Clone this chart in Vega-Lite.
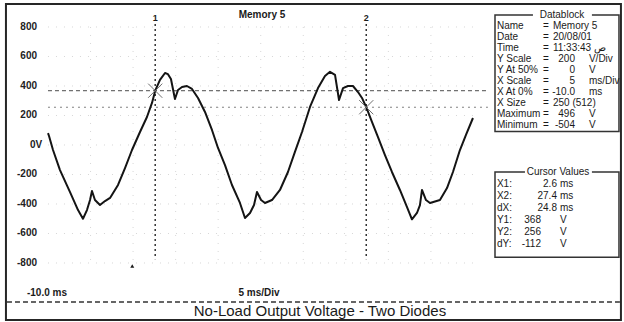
{
  "$schema": "https://vega.github.io/schema/vega-lite/v6.json",
  "width": 624,
  "height": 322,
  "padding": 0,
  "autosize": {"type": "fit", "contains": "padding"},
  "background": "#ffffff",
  "config": {
    "view": {"stroke": null},
    "font": "Liberation Sans",
    "text": {"font": "Liberation Sans", "color": "#1a1a1a", "fontSize": 10}
  },
  "data": {"values": [{}]},
  "datasets": {
    "trace": [
      {"t": -10.0, "v": 81}, {"t": -9.88, "v": 61}, {"t": -9.41, "v": -34}, {"t": -8.59, "v": -170}, {"t": -7.41, "v": -319},
      {"t": -6.47, "v": -441}, {"t": -5.89, "v": -500}, {"t": -5.42, "v": -441}, {"t": -5.06, "v": -373},
      {"t": -4.83, "v": -312}, {"t": -4.48, "v": -373}, {"t": -3.89, "v": -407}, {"t": -3.30, "v": -380},
      {"t": -2.71, "v": -359}, {"t": -1.77, "v": -271}, {"t": -0.95, "v": -156}, {"t": -0.13, "v": -34},
      {"t": 0.81, "v": 88}, {"t": 1.63, "v": 190}, {"t": 2.22, "v": 285}, {"t": 2.6, "v": 368},
      {"t": 3.16, "v": 441}, {"t": 3.75, "v": 488}, {"t": 4.1, "v": 480}, {"t": 4.45, "v": 447},
      {"t": 4.92, "v": 312}, {"t": 5.28, "v": 373}, {"t": 5.75, "v": 393}, {"t": 6.33, "v": 400},
      {"t": 6.92, "v": 380}, {"t": 7.63, "v": 319}, {"t": 8.45, "v": 224}, {"t": 9.27, "v": 102},
      {"t": 9.98, "v": -20}, {"t": 10.8, "v": -136}, {"t": 11.62, "v": -271}, {"t": 12.56, "v": -393},
      {"t": 13.15, "v": -495}, {"t": 13.74, "v": -461}, {"t": 14.21, "v": -407}, {"t": 14.56, "v": -319},
      {"t": 15.04, "v": -373}, {"t": 15.5, "v": -393}, {"t": 16.32, "v": -373}, {"t": 17.26, "v": -305},
      {"t": 18.2, "v": -183}, {"t": 19.02, "v": -47}, {"t": 19.85, "v": 88}, {"t": 20.79, "v": 258},
      {"t": 21.73, "v": 386}, {"t": 22.55, "v": 468}, {"t": 23.14, "v": 496}, {"t": 23.73, "v": 475},
      {"t": 24.2, "v": 305}, {"t": 24.67, "v": 386}, {"t": 25.25, "v": 400}, {"t": 25.84, "v": 400},
      {"t": 26.43, "v": 359}, {"t": 26.9, "v": 319}, {"t": 27.4, "v": 256}, {"t": 28.07, "v": 156},
      {"t": 28.78, "v": 54}, {"t": 29.6, "v": -68}, {"t": 30.42, "v": -183}, {"t": 31.36, "v": -305},
      {"t": 32.18, "v": -420}, {"t": 32.77, "v": -504}, {"t": 33.36, "v": -461}, {"t": 33.71, "v": -407},
      {"t": 33.95, "v": -305}, {"t": 34.42, "v": -373}, {"t": 34.89, "v": -393}, {"t": 36.06, "v": -373},
      {"t": 36.89, "v": -292}, {"t": 37.59, "v": -183}, {"t": 38.41, "v": -34}, {"t": 39.12, "v": 68},
      {"t": 39.94, "v": 183}
    ],
    "cursors": [
      {"id": "1", "t": 2.6, "v": 368},
      {"id": "2", "t": 27.4, "v": 256}
    ],
    "timeDivs": [
      {"t": -5}, {"t": 0}, {"t": 5}, {"t": 10}, {"t": 15}, {"t": 20}, {"t": 25}, {"t": 30}, {"t": 35}
    ],
    "voltDivs": [
      {"v": -800, "label": "-800"}, {"v": -600, "label": "-600"}, {"v": -400, "label": "-400"},
      {"v": -200, "label": "-200"}, {"v": 0, "label": "0V"}, {"v": 200, "label": "200"},
      {"v": 400, "label": "400"}, {"v": 600, "label": "600"}, {"v": 800, "label": "800"}
    ],
    "datablock": [
      {"line": 1, "label": "Name", "rest": "Memory 5"},
      {"line": 2, "label": "Date", "rest": "20/08/01"},
      {"line": 3, "label": "Time", "rest": "11:33:43 ص"},
      {"line": 4, "label": "Y Scale", "num": "200", "unit": "V/Div"},
      {"line": 5, "label": "Y At 50%", "num": "0", "unit": "V"},
      {"line": 6, "label": "X Scale", "num": "5", "unit": "ms/Div"},
      {"line": 7, "label": "X At 0%", "num": "-10.0", "unit": "ms"},
      {"line": 8, "label": "X Size", "rest": "250 (512)"},
      {"line": 9, "label": "Maximum", "num": "496", "unit": "V"},
      {"line": 10, "label": "Minimum", "num": "-504", "unit": "V"}
    ],
    "cursorValues": [
      {"line": 1, "label": "X1:", "num": "2.6", "unit": "ms"},
      {"line": 2, "label": "X2:", "num": "27.4", "unit": "ms"},
      {"line": 3, "label": "dX:", "num": "24.8", "unit": "ms"},
      {"line": 4, "label": "Y1:", "num": "368", "unit": "V"},
      {"line": 5, "label": "Y2:", "num": "256", "unit": "V"},
      {"line": 6, "label": "dY:", "num": "-112", "unit": "V"}
    ]
  },
  "layer": [
    {
      "layer": [
        {
          "mark": {"type": "rect", "fillOpacity": 0, "stroke": "#262626", "strokeWidth": 2},
          "encoding": {
            "x": {"datum": -14.94, "scale": {"domain": [-15.64, 57.69], "nice": false, "zero": false}, "axis": null},
            "x2": {"datum": 57.33},
            "y": {"datum": 956, "scale": {"domain": [-1200, 983], "nice": false, "zero": false}, "axis": null},
            "y2": {"datum": -1186}
          }
        },
        {
          "data": {"name": "timeDivs"},
          "mark": {"type": "rule", "stroke": "#bdbdbd", "strokeWidth": 1, "strokeDash": [1, 7], "opacity": 0.6},
          "encoding": {
            "x": {"field": "t", "type": "quantitative", "scale": {"domain": [-15.64, 57.69], "nice": false, "zero": false}, "axis": null},
            "y": {"datum": 800, "scale": {"domain": [-1200, 983], "nice": false, "zero": false}, "axis": null},
            "y2": {"datum": -800}
          }
        },
        {
          "data": {"name": "voltDivs"},
          "mark": {"type": "rule", "stroke": "#bdbdbd", "strokeWidth": 1, "strokeDash": [1, 7], "opacity": 0.6},
          "encoding": {
            "y": {"field": "v", "type": "quantitative", "scale": {"domain": [-1200, 983], "nice": false, "zero": false}, "axis": null},
            "x": {"datum": -10, "scale": {"domain": [-15.64, 57.69], "nice": false, "zero": false}, "axis": null},
            "x2": {"datum": 40}
          }
        },
        {
          "data": {"name": "voltDivs"},
          "transform": [{"filter": "datum.v != 0"}],
          "mark": {"type": "text", "fontSize": 10, "fontWeight": "bold", "align": "right", "baseline": "middle", "color": "#222222"},
          "encoding": {
            "y": {"field": "v", "type": "quantitative", "scale": {"domain": [-1200, 983], "nice": false, "zero": false}, "axis": null},
            "x": {"datum": -11.29, "scale": {"domain": [-15.64, 57.69], "nice": false, "zero": false}, "axis": null},
            "text": {"field": "label"}
          }
        },
        {
          "data": {"name": "voltDivs"},
          "transform": [{"filter": "datum.v == 0"}],
          "mark": {"type": "text", "fontSize": 10, "fontWeight": "bold", "align": "left", "baseline": "middle", "color": "#222222"},
          "encoding": {
            "y": {"field": "v", "type": "quantitative", "scale": {"domain": [-1200, 983], "nice": false, "zero": false}, "axis": null},
            "x": {"datum": -12.12, "scale": {"domain": [-15.64, 57.69], "nice": false, "zero": false}, "axis": null},
            "text": {"field": "label"}
          }
        },
        {
          "mark": {"type": "rule", "stroke": "#333333", "strokeWidth": 1.5, "strokeDash": [5, 3]},
          "encoding": {
            "x": {"datum": -14.82, "scale": {"domain": [-15.64, 57.69], "nice": false, "zero": false}, "axis": null},
            "x2": {"datum": 57.21},
            "y": {"datum": -1064.5, "scale": {"domain": [-1200, 983], "nice": false, "zero": false}, "axis": null}
          }
        },
        {
          "data": {"name": "cursors"},
          "mark": {"type": "rule", "stroke": "#333333", "strokeWidth": 1.5, "strokeDash": [2, 3]},
          "encoding": {
            "x": {"field": "t", "type": "quantitative", "scale": {"domain": [-15.64, 57.69], "nice": false, "zero": false}, "axis": null},
            "y": {"datum": 820, "scale": {"domain": [-1200, 983], "nice": false, "zero": false}, "axis": null},
            "y2": {"datum": -775}
          }
        },
        {
          "data": {"name": "cursors"},
          "mark": {"type": "rule", "strokeWidth": 1},
          "encoding": {
            "y": {"field": "v", "type": "quantitative", "scale": {"domain": [-1200, 983], "nice": false, "zero": false}, "axis": null},
            "x": {"datum": -10, "scale": {"domain": [-15.64, 57.69], "nice": false, "zero": false}, "axis": null},
            "x2": {"datum": 41.7},
            "strokeDash": {"field": "id", "type": "nominal", "scale": {"domain": ["1", "2"], "range": [[4, 3], [2, 4]]}, "legend": null},
            "color": {"field": "id", "type": "nominal", "scale": {"domain": ["1", "2"], "range": ["#4d4d4d", "#808080"]}, "legend": null}
          }
        },
        {
          "data": {"name": "trace"},
          "mark": {"type": "line", "stroke": "#141414", "strokeWidth": 2, "strokeJoin": "round"},
          "encoding": {
            "x": {"field": "t", "type": "quantitative", "scale": {"domain": [-15.64, 57.69], "nice": false, "zero": false}, "axis": null},
            "y": {"field": "v", "type": "quantitative", "scale": {"domain": [-1200, 983], "nice": false, "zero": false}, "axis": null}
          }
        },
        {
          "data": {"name": "cursors"},
          "mark": {"type": "point", "shape": "M-1,-1L1,1M-1,1L1,-1", "filled": false, "size": 200, "stroke": "#6e6e6e", "strokeWidth": 1, "opacity": 1},
          "encoding": {
            "x": {"field": "t", "type": "quantitative", "scale": {"domain": [-15.64, 57.69], "nice": false, "zero": false}, "axis": null},
            "y": {"field": "v", "type": "quantitative", "scale": {"domain": [-1200, 983], "nice": false, "zero": false}, "axis": null}
          }
        },
        {
          "data": {"name": "cursors"},
          "mark": {"type": "text", "fontSize": 9, "fontWeight": "bold", "align": "center", "baseline": "middle"},
          "encoding": {
            "x": {"field": "t", "type": "quantitative", "scale": {"domain": [-15.64, 57.69], "nice": false, "zero": false}, "axis": null},
            "y": {"datum": 861, "scale": {"domain": [-1200, 983], "nice": false, "zero": false}, "axis": null},
            "text": {"field": "id"}
          }
        },
        {
          "mark": {"type": "point", "shape": "triangle-up", "size": 16, "filled": true, "color": "#1a1a1a", "opacity": 1},
          "encoding": {
            "x": {"datum": -0.1, "scale": {"domain": [-15.64, 57.69], "nice": false, "zero": false}, "axis": null},
            "y": {"datum": -820, "scale": {"domain": [-1200, 983], "nice": false, "zero": false}, "axis": null}
          }
        },
        {
          "mark": {"type": "text", "fontSize": 10, "fontWeight": "bold", "align": "center", "baseline": "middle", "text": "Memory 5"},
          "encoding": {
            "x": {"datum": 15.15, "scale": {"domain": [-15.64, 57.69], "nice": false, "zero": false}, "axis": null},
            "y": {"datum": 881, "scale": {"domain": [-1200, 983], "nice": false, "zero": false}, "axis": null}
          }
        },
        {
          "mark": {"type": "text", "fontSize": 10, "fontWeight": "bold", "align": "left", "baseline": "middle", "text": "-10.0 ms"},
          "encoding": {
            "x": {"datum": -12.47, "scale": {"domain": [-15.64, 57.69], "nice": false, "zero": false}, "axis": null},
            "y": {"datum": -1003, "scale": {"domain": [-1200, 983], "nice": false, "zero": false}, "axis": null}
          }
        },
        {
          "mark": {"type": "text", "fontSize": 10, "fontWeight": "bold", "align": "center", "baseline": "middle", "text": "5 ms/Div"},
          "encoding": {
            "x": {"datum": 14.8, "scale": {"domain": [-15.64, 57.69], "nice": false, "zero": false}, "axis": null},
            "y": {"datum": -1003, "scale": {"domain": [-1200, 983], "nice": false, "zero": false}, "axis": null}
          }
        },
        {
          "mark": {"type": "text", "fontSize": 15, "align": "center", "baseline": "alphabetic", "color": "#1a1a1a", "text": "No-Load Output Voltage - Two Diodes"},
          "encoding": {
            "x": {"datum": 21.96, "scale": {"domain": [-15.64, 57.69], "nice": false, "zero": false}, "axis": null},
            "y": {"datum": -1159, "scale": {"domain": [-1200, 983], "nice": false, "zero": false}, "axis": null}
          }
        }
      ]
    },
    {
      "data": {"name": "datablock"},
      "layer": [
        {
          "data": {"values": [{}]},
          "mark": {"type": "rect", "fillOpacity": 0, "stroke": "#333333", "strokeWidth": 1.5},
          "encoding": {
            "x": {"datum": 42.53, "scale": {"domain": [-15.64, 57.69], "nice": false, "zero": false}, "axis": null},
            "x2": {"datum": 57.1},
            "y": {"datum": 0, "scale": {"domain": [0, 10], "range": [15, 125], "nice": false, "zero": false}, "axis": null},
            "y2": {"datum": 10.6}
          }
        },
        {
          "data": {"values": [{}]},
          "mark": {"type": "rect", "fill": "#ffffff"},
          "encoding": {
            "x": {"datum": 46.99, "scale": {"domain": [-15.64, 57.69], "nice": false, "zero": false}, "axis": null},
            "x2": {"datum": 53.92},
            "y": {"datum": -0.4, "scale": {"domain": [0, 10], "range": [15, 125], "nice": false, "zero": false}, "axis": null},
            "y2": {"datum": 0.4}
          }
        },
        {
          "data": {"values": [{}]},
          "mark": {"type": "text", "align": "center", "baseline": "middle", "text": "Datablock"},
          "encoding": {
            "x": {"datum": 50.4, "scale": {"domain": [-15.64, 57.69], "nice": false, "zero": false}, "axis": null},
            "y": {"datum": 0, "scale": {"domain": [0, 10], "range": [15, 125], "nice": false, "zero": false}, "axis": null}
          }
        },
        {
          "mark": {"type": "text", "align": "left", "baseline": "middle"},
          "encoding": {
            "x": {"datum": 42.76, "scale": {"domain": [-15.64, 57.69], "nice": false, "zero": false}, "axis": null},
            "y": {"field": "line", "type": "quantitative", "scale": {"domain": [0, 10], "range": [15, 125], "nice": false, "zero": false}, "axis": null},
            "text": {"field": "label"}
          }
        },
        {
          "mark": {"type": "text", "align": "left", "baseline": "middle", "text": "="},
          "encoding": {
            "x": {"datum": 48.17, "scale": {"domain": [-15.64, 57.69], "nice": false, "zero": false}, "axis": null},
            "y": {"field": "line", "type": "quantitative", "scale": {"domain": [0, 10], "range": [15, 125], "nice": false, "zero": false}, "axis": null}
          }
        },
        {
          "transform": [{"filter": "datum.rest"}],
          "mark": {"type": "text", "align": "left", "baseline": "middle"},
          "encoding": {
            "x": {"datum": 49.34, "scale": {"domain": [-15.64, 57.69], "nice": false, "zero": false}, "axis": null},
            "y": {"field": "line", "type": "quantitative", "scale": {"domain": [0, 10], "range": [15, 125], "nice": false, "zero": false}, "axis": null},
            "text": {"field": "rest"}
          }
        },
        {
          "transform": [{"filter": "datum.num"}],
          "mark": {"type": "text", "align": "right", "baseline": "middle"},
          "encoding": {
            "x": {"datum": 51.93, "scale": {"domain": [-15.64, 57.69], "nice": false, "zero": false}, "axis": null},
            "y": {"field": "line", "type": "quantitative", "scale": {"domain": [0, 10], "range": [15, 125], "nice": false, "zero": false}, "axis": null},
            "text": {"field": "num"}
          }
        },
        {
          "transform": [{"filter": "datum.unit"}],
          "mark": {"type": "text", "align": "left", "baseline": "middle"},
          "encoding": {
            "x": {"datum": 53.57, "scale": {"domain": [-15.64, 57.69], "nice": false, "zero": false}, "axis": null},
            "y": {"field": "line", "type": "quantitative", "scale": {"domain": [0, 10], "range": [15, 125], "nice": false, "zero": false}, "axis": null},
            "text": {"field": "unit"}
          }
        }
      ]
    },
    {
      "data": {"name": "cursorValues"},
      "layer": [
        {
          "data": {"values": [{}]},
          "mark": {"type": "rect", "fillOpacity": 0, "stroke": "#333333", "strokeWidth": 1.5},
          "encoding": {
            "x": {"datum": 42.53, "scale": {"domain": [-15.64, 57.69], "nice": false, "zero": false}, "axis": null},
            "x2": {"datum": 57.1},
            "y": {"datum": 0, "scale": {"domain": [0, 6], "range": [172, 244], "nice": false, "zero": false}, "axis": null},
            "y2": {"datum": 7.1}
          }
        },
        {
          "data": {"values": [{}]},
          "mark": {"type": "rect", "fill": "#ffffff"},
          "encoding": {
            "x": {"datum": 46.05, "scale": {"domain": [-15.64, 57.69], "nice": false, "zero": false}, "axis": null},
            "x2": {"datum": 53.92},
            "y": {"datum": -0.4, "scale": {"domain": [0, 6], "range": [172, 244], "nice": false, "zero": false}, "axis": null},
            "y2": {"datum": 0.4}
          }
        },
        {
          "data": {"values": [{}]},
          "mark": {"type": "text", "align": "center", "baseline": "middle", "text": "Cursor Values"},
          "encoding": {
            "x": {"datum": 49.93, "scale": {"domain": [-15.64, 57.69], "nice": false, "zero": false}, "axis": null},
            "y": {"datum": 0, "scale": {"domain": [0, 6], "range": [172, 244], "nice": false, "zero": false}, "axis": null}
          }
        },
        {
          "mark": {"type": "text", "align": "left", "baseline": "middle"},
          "encoding": {
            "x": {"datum": 42.76, "scale": {"domain": [-15.64, 57.69], "nice": false, "zero": false}, "axis": null},
            "y": {"field": "line", "type": "quantitative", "scale": {"domain": [0, 6], "range": [172, 244], "nice": false, "zero": false}, "axis": null},
            "text": {"field": "label"}
          }
        },
        {
          "transform": [{"filter": "datum.unit == 'ms'"}],
          "mark": {"type": "text", "align": "right", "baseline": "middle"},
          "encoding": {
            "x": {"datum": 49.81, "scale": {"domain": [-15.64, 57.69], "nice": false, "zero": false}, "axis": null},
            "y": {"field": "line", "type": "quantitative", "scale": {"domain": [0, 6], "range": [172, 244], "nice": false, "zero": false}, "axis": null},
            "text": {"field": "num"}
          }
        },
        {
          "transform": [{"filter": "datum.unit == 'V'"}],
          "mark": {"type": "text", "align": "right", "baseline": "middle"},
          "encoding": {
            "x": {"datum": 47.93, "scale": {"domain": [-15.64, 57.69], "nice": false, "zero": false}, "axis": null},
            "y": {"field": "line", "type": "quantitative", "scale": {"domain": [0, 6], "range": [172, 244], "nice": false, "zero": false}, "axis": null},
            "text": {"field": "num"}
          }
        },
        {
          "mark": {"type": "text", "align": "left", "baseline": "middle"},
          "encoding": {
            "x": {"datum": 50.16, "scale": {"domain": [-15.64, 57.69], "nice": false, "zero": false}, "axis": null},
            "y": {"field": "line", "type": "quantitative", "scale": {"domain": [0, 6], "range": [172, 244], "nice": false, "zero": false}, "axis": null},
            "text": {"field": "unit"}
          }
        }
      ]
    }
  ],
  "resolve": {"scale": {"y": "independent"}}
}
